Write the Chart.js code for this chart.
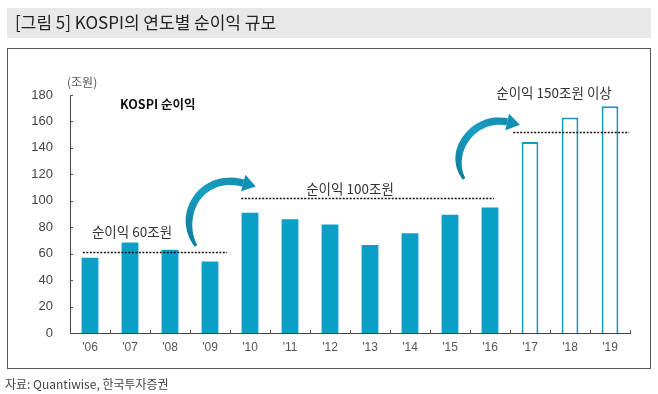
<!DOCTYPE html>
<html>
<head>
<meta charset="utf-8">
<script src="https://cdn.jsdelivr.net/npm/chart.js@4"></script>
<style>
  html, body { margin: 0; padding: 0; background: #fff; }
  #wrap { width: 658px; height: 394px; }
</style>
</head>
<body>
<div id="wrap"><canvas id="kospiChart" width="658" height="394"></canvas></div>
<script>
// 데이터
var years = ["'06", "'07", "'08", "'09", "'10", "'11", "'12", "'13", "'14", "'15", "'16", "'17", "'18", "'19"];
var netProfit = [57, 68.5, 63, 54, 91, 86, 82, 66.5, 75.5, 89.5, 95, 144.5, 163, 171.5];
var forecastFrom = 11; // '17 부터 전망치 (빈 막대)
var yTicks = [0, 20, 40, 60, 80, 100, 120, 140, 160, 180];

// 점선 기준선: 값, 시작/끝 (카테고리 인덱스)
var refValues = [61.5, 102, 152];
var refFrom = [-0.18, 3.78, 10.58];
var refTo = [3.43, 10.1, 13.48];
var refLabels = ["순이익 60조원", "순이익 100조원", "순이익 150조원 이상"];
var refLabelX = [1.05, 6.5, 11.6];
var refLabelY = [76.5, 109, 181.5];

var fontKr = "'Noto Sans CJK KR', 'Noto Sans', sans-serif";
var fontNum = "'Liberation Sans', Arial, sans-serif";

// 곡선 화살표 (인덱스, 값)
var arrows = [
    [[2.65, 65.8], [2.15, 89.2], [2.78, 121.8], [3.83, 113.4]],
    [[9.35, 116.5], [8.9, 138.4], [9.65, 164.9], [10.43, 159.6]]
];

var decoPlugin = {
    id: 'deco',
    beforeDraw: function (chart) {
        var ctx = chart.ctx;
        ctx.save();
        // 제목 배경
        ctx.fillStyle = '#e8e8e8';
        ctx.fillRect(7, 8, 644, 30);
        ctx.fillStyle = '#222';
        ctx.font = "17px " + fontKr;
        ctx.textBaseline = 'middle';
        ctx.fillText("[그림 5] KOSPI의 연도별 순이익 규모", 15, 23);
        // 테두리
        ctx.strokeStyle = '#555';
        ctx.lineWidth = 1;
        ctx.strokeRect(7.5, 48.5, 643, 320);
        // 출처
        ctx.fillStyle = '#444';
        ctx.font = "12px " + fontKr;
        ctx.fillText("자료: Quantiwise, 한국투자증권", 5, 384);
        ctx.restore();
    },
    afterDraw: function (chart) {
        var ctx = chart.ctx;
        var x = chart.scales.x, y = chart.scales.y;
        ctx.save();
        // 축 안쪽 작은 눈금
        ctx.strokeStyle = '#555';
        ctx.lineWidth = 1;
        ctx.beginPath();
        for (var i = 0; i <= years.length; i++) {
            var px = Math.round(x.getPixelForValue(i - 0.5)) + 0.5;
            ctx.moveTo(px, y.bottom);
            ctx.lineTo(px, y.bottom - 3);
        }
        yTicks.forEach(function (t) {
            var py = Math.round(y.getPixelForValue(t)) + 0.5;
            ctx.moveTo(x.left, py);
            ctx.lineTo(x.left + 3, py);
        });
        ctx.stroke();

        // 점선 기준선
        ctx.strokeStyle = '#111';
        ctx.lineWidth = 1.3;
        ctx.setLineDash([2, 1.5]);
        refValues.forEach(function (v, k) {
            var py = Math.round(y.getPixelForValue(v)) + 0.5;
            ctx.beginPath();
            ctx.moveTo(x.getPixelForValue(refFrom[k]), py);
            ctx.lineTo(x.getPixelForValue(refTo[k]), py);
            ctx.stroke();
        });
        ctx.setLineDash([]);

        // 라벨
        ctx.fillStyle = '#333';
        ctx.font = "13.5px " + fontKr;
        ctx.textAlign = 'center';
        ctx.textBaseline = 'middle';
        refLabels.forEach(function (s, k) {
            ctx.fillText(s, x.getPixelForValue(refLabelX[k]), y.getPixelForValue(refLabelY[k]));
        });
        ctx.textAlign = 'left';
        ctx.fillStyle = '#111';
        ctx.font = "bold 12.5px " + fontKr;
        ctx.fillText("KOSPI 순이익", 120, 104);
        ctx.fillStyle = '#555';
        ctx.font = "12px " + fontKr;
        ctx.fillText("(조원)", 67, 82);

        // 화살표
        arrows.forEach(function (a) {
            var p = a.map(function (q) { return [x.getPixelForValue(q[0]), y.getPixelForValue(q[1])]; });
            var left = [], right = [];
            var n = 30;
            for (var s = 0; s <= n; s++) {
                var t = s / n, u = 1 - t;
                var bx = u*u*u*p[0][0] + 3*u*u*t*p[1][0] + 3*u*t*t*p[2][0] + t*t*t*p[3][0];
                var by = u*u*u*p[0][1] + 3*u*u*t*p[1][1] + 3*u*t*t*p[2][1] + t*t*t*p[3][1];
                var dx = 3*u*u*(p[1][0]-p[0][0]) + 6*u*t*(p[2][0]-p[1][0]) + 3*t*t*(p[3][0]-p[2][0]);
                var dy = 3*u*u*(p[1][1]-p[0][1]) + 6*u*t*(p[2][1]-p[1][1]) + 3*t*t*(p[3][1]-p[2][1]);
                var len = Math.sqrt(dx*dx + dy*dy) || 1;
                var nx = -dy / len, ny = dx / len;
                var w = 1.5 + 2.2 * Math.sin(Math.PI * Math.min(t * 1.3, 0.5));
                left.push([bx + nx*w, by + ny*w]);
                right.push([bx - nx*w, by - ny*w]);
            }
            var grad = ctx.createLinearGradient(p[0][0], p[0][1], p[3][0], p[3][1]);
            grad.addColorStop(0, '#0b7f9e');
            grad.addColorStop(0.6, '#1a9ec2');
            grad.addColorStop(1, '#1190b3');
            ctx.fillStyle = grad;
            ctx.beginPath();
            ctx.moveTo(left[0][0], left[0][1]);
            left.forEach(function (q) { ctx.lineTo(q[0], q[1]); });
            for (var r = right.length - 1; r >= 0; r--) ctx.lineTo(right[r][0], right[r][1]);
            ctx.closePath();
            ctx.fill();
            // 머리
            var ex = p[3][0], ey = p[3][1];
            var ddx = p[3][0] - p[2][0], ddy = p[3][1] - p[2][1];
            var dl = Math.sqrt(ddx*ddx + ddy*ddy);
            ddx /= dl; ddy /= dl;
            ctx.fillStyle = '#1190b3';
            ctx.beginPath();
            ctx.moveTo(ex + ddx*13, ey + ddy*13);
            ctx.lineTo(ex - ddy*8.5, ey + ddx*8.5);
            ctx.lineTo(ex + ddy*8.5, ey - ddx*8.5);
            ctx.closePath();
            ctx.fill();
        });
        ctx.restore();
    }
};

var ctx = document.getElementById("kospiChart").getContext("2d");
var kospiChart = new Chart(ctx, {
    type: 'bar',
    data: {
        labels: years,
        datasets: [{
            label: "KOSPI 순이익",
            data: netProfit,
            backgroundColor: function (c) { return c.dataIndex >= forecastFrom ? '#ffffff' : '#0aa0c6'; },
            borderColor: function (c) { return c.dataIndex >= forecastFrom ? '#1799bd' : '#0aa0c6'; },
            borderWidth: function (c) { return c.dataIndex >= forecastFrom ? 2 : 0; },
            barPercentage: 0.42,
            categoryPercentage: 1.0
        }]
    },
    options: {
        responsive: false,
        animation: false,
        layout: { padding: { left: 20, right: 28, top: 95, bottom: 0 } },
        plugins: {
            legend: { display: false },
            tooltip: { enabled: false }
        },
        scales: {
            x: {
                grid: { display: false, drawTicks: false },
                border: { color: '#444', width: 1 },
                ticks: {
                    color: '#555',
                    padding: 7,
                    font: { size: 12, family: fontNum }
                },
                afterFit: function (s) { s.height = 61; }
            },
            y: {
                min: 0,
                max: 180,
                grid: { display: false, drawTicks: false },
                border: { color: '#444', width: 1 },
                ticks: {
                    stepSize: 20,
                    color: '#444',
                    padding: 17,
                    font: { size: 13, family: fontNum }
                },
                afterFit: function (s) { s.width = 50; }
            }
        }
    },
    plugins: [decoPlugin]
});
</script>
</body>
</html>
